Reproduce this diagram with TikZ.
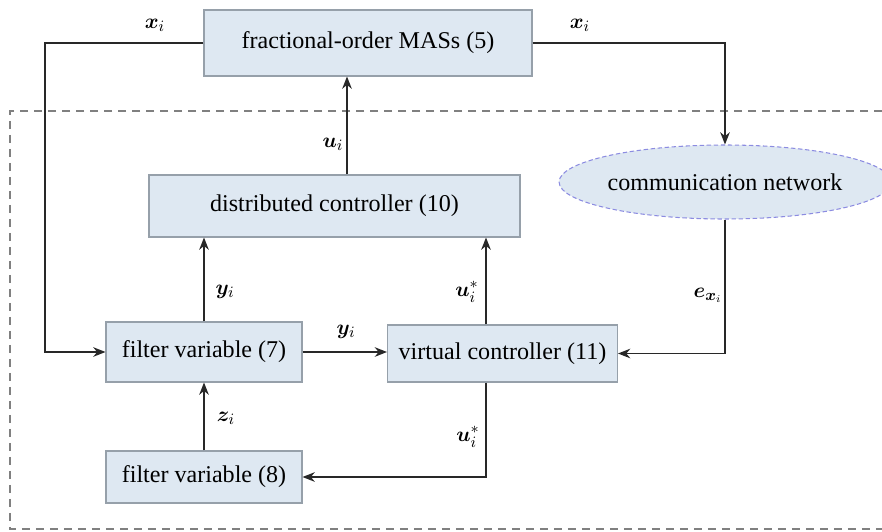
\documentclass[tikz,border=0pt]{standalone}
\usepackage{amsmath}
\usepackage{bm}
\usepackage{fontspec}
\setmainfont{Liberation Serif}
\usepackage{tikz}
\usetikzlibrary{shapes.geometric, arrows, arrows.meta, calc}
\definecolor{boxfill}{RGB}{222,232,242}
\definecolor{boxline}{RGB}{150,160,170}
\definecolor{netline}{RGB}{140,140,225}
\definecolor{wire}{RGB}{40,40,40}
\tikzstyle{block} = [rectangle, draw=boxline, fill=boxfill, line width=0.6pt, text centered, inner sep=0pt, font=\fontsize{13.7}{16}\selectfont]
\tikzstyle{network} = [ellipse, draw=netline, fill=boxfill, dash pattern=on 2.5pt off 1.5pt, line width=0.6pt, inner sep=0pt, minimum width=6.6cm, minimum height=1.48cm, font=\fontsize{13.7}{16}\selectfont]
\tikzstyle{arrow} = [draw=wire, line width=0.7pt, -{Stealth[length=7pt,width=5.5pt]}]
\tikzstyle{sig} = [font=\fontsize{12.5}{14}\selectfont]

\begin{document}
\begin{tikzpicture}
            \useasboundingbox (0,0) rectangle (17.64,-10.62);
            \draw [gray, line width=0.85pt, dash pattern=on 0.16cm off 0.12cm] (17.64,-2.22) -- (0.2,-2.22) -- (0.2,-10.58) -- (17.64,-10.58);

            \node (mas) [block, minimum width=6.56cm, minimum height=1.32cm] at (7.36,-0.86) {fractional-order MASs (5)};
            \node (dist_ctrl) [block, minimum width=7.42cm, minimum height=1.24cm] at (6.69,-4.12) {distributed controller (10)};
            \node (comm) [network] at (14.5,-3.64) {communication network};
            \node (filter_y) [block, minimum width=3.92cm, minimum height=1.2cm] at (4.08,-7.04) {filter variable (7)};
            \node (virt_ctrl) [block, minimum width=4.6cm, minimum height=1.14cm] at (10.05,-7.07) {virtual controller (11)};
            \node (filter_z) [block, minimum width=3.92cm, minimum height=1.04cm] at (4.08,-9.54) {filter variable (8)};
            \coordinate (feed) at (0.9,-0.86);
            \coordinate (u_col) at (6.94,0);
            \coordinate (v_col) at (9.72,0);

            \draw [arrow] (mas.west) -- (feed) |- (filter_y.west);
            \draw [arrow] (mas.east) -| (comm.north);
            \draw [arrow] (dist_ctrl.north -| u_col) -- (mas.south -| u_col);
            \draw [arrow] (filter_y.north) -- (dist_ctrl.south -| filter_y.north);
            \draw [arrow] (virt_ctrl.north -| v_col) -- (dist_ctrl.south -| v_col);
            \draw [arrow] (filter_y.east) -- (filter_y.east -| virt_ctrl.west);
            \draw [arrow] (comm.south) |- (virt_ctrl.east);
            \draw [arrow] (virt_ctrl.south -| v_col) |- (filter_z.east);
            \draw [arrow] (filter_z.north) -- (filter_y.south);

            \node (lbl_x1) [sig] at (3.1,-0.5) {$\bm{x}_i$};
            \node (lbl_x2) [sig] at (11.6,-0.5) {$\bm{x}_i$};
            \node (lbl_u) [sig] at (6.66,-2.88) {$\bm{u}_i$};
            \node (lbl_y1) [sig] at (4.5,-5.84) {$\bm{y}_i$};
            \node (lbl_us1) [sig] at (9.34,-5.84) {$\bm{u}_i^*$};
            \node (lbl_e) [sig] at (14.16,-5.9) {$\bm{e}_{\bm{x}_i}$};
            \node (lbl_y2) [sig] at (6.92,-6.64) {$\bm{y}_i$};
            \node (lbl_z) [sig] at (4.52,-8.36) {$\bm{z}_i$};
            \node (lbl_us2) [sig] at (9.36,-8.74) {$\bm{u}_i^*$};
        \end{tikzpicture}
\end{document}
